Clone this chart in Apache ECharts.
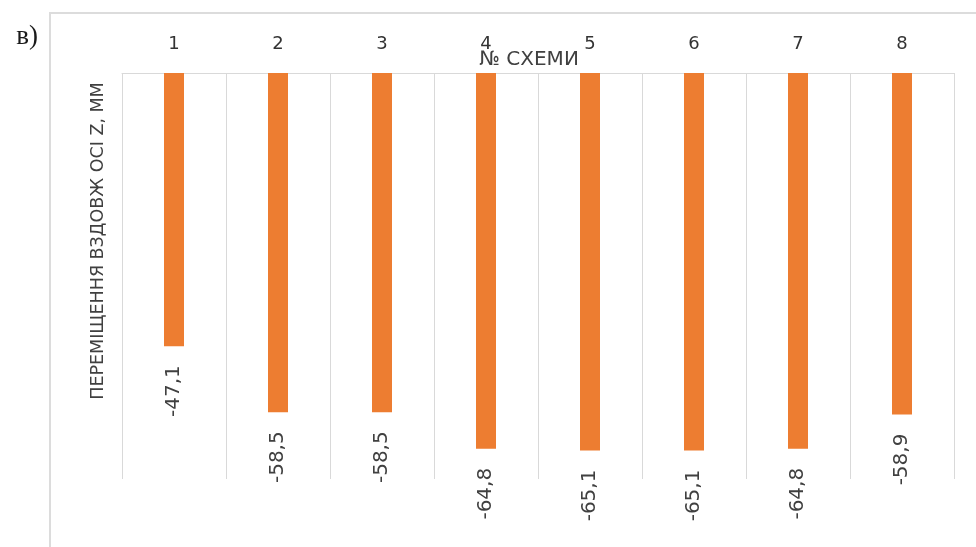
<!DOCTYPE html>
<html>
<head>
<meta charset="utf-8">
<style>
  html, body { margin: 0; padding: 0; background: #ffffff; }
  #chart { width: 976px; height: 547px; }
</style>
<script src="https://cdn.jsdelivr.net/npm/echarts@6/dist/echarts.min.js"></script>
</head>
<body>
<div id="chart"></div>
<script>
// ---- data ----
const categories = ['1', '2', '3', '4', '5', '6', '7', '8'];
const displacementZ = [-47.1, -58.5, -58.5, -64.8, -65.1, -65.1, -64.8, -58.9];
const xAxisTitle = '№ СХЕМИ';
const yAxisTitle = 'ПЕРЕМІЩЕННЯ ВЗДОВЖ ОСІ Z, ММ';
const panelLetter = 'в)';
const valueMin = -70;
const valueMax = 0;

const chart = echarts.init(document.getElementById('chart'), null, { renderer: 'canvas' });

const option = {
  backgroundColor: '#ffffff',
  animation: false,
  grid: { left: 122, right: 22, top: 73, bottom: 68, containLabel: false },
  xAxis: {
    type: 'category',
    data: categories,
    position: 'top',
    boundaryGap: true,
    axisLine: { show: true, lineStyle: { color: '#d9d9d9', width: 1 } },
    axisTick: { show: false },
    axisLabel: { margin: 20, color: '#333333', fontFamily: 'DejaVu Sans', fontSize: 18 },
    splitLine: { show: true, lineStyle: { color: '#d9d9d9', width: 1 } }
  },
  yAxis: {
    type: 'value',
    min: valueMin,
    max: valueMax,
    show: true,
    axisLine: { show: false },
    axisTick: { show: false },
    axisLabel: { show: false },
    splitLine: { show: false }
  },
  series: [{
    type: 'bar',
    data: displacementZ,
    barWidth: 20,
    itemStyle: { color: '#ED7D31' },
    label: {
      show: true,
      position: 'bottom',
      distance: 19,
      rotate: 90,
      align: 'right',
      verticalAlign: 'middle',
      color: '#404040',
      fontFamily: 'DejaVu Sans',
      fontSize: 20,
      formatter: p => String(p.value).replace('.', ',')
    }
  }],
  graphic: [
    {
      type: 'rect',
      shape: { x: 50, y: 13, width: 1000, height: 600 },
      style: { fill: 'none', stroke: '#dcdcdc', lineWidth: 2 },
      z: -10
    },
    {
      type: 'text',
      x: 529, y: 60,
      style: {
        text: xAxisTitle,
        align: 'center',
        verticalAlign: 'middle',
        fill: '#404040',
        font: '20px "DejaVu Sans"'
      }
    },
    {
      type: 'text',
      x: 98, y: 241,
      rotation: Math.PI / 2,
      style: {
        text: yAxisTitle,
        align: 'center',
        verticalAlign: 'middle',
        fill: '#404040',
        font: '17.5px "DejaVu Sans"'
      }
    },
    {
      type: 'text',
      x: 27, y: 37,
      style: {
        text: panelLetter,
        align: 'center',
        verticalAlign: 'middle',
        fill: '#1a1a1a',
        font: '27px "Liberation Serif"'
      }
    }
  ]
};

chart.setOption(option);
</script>
</body>
</html>
